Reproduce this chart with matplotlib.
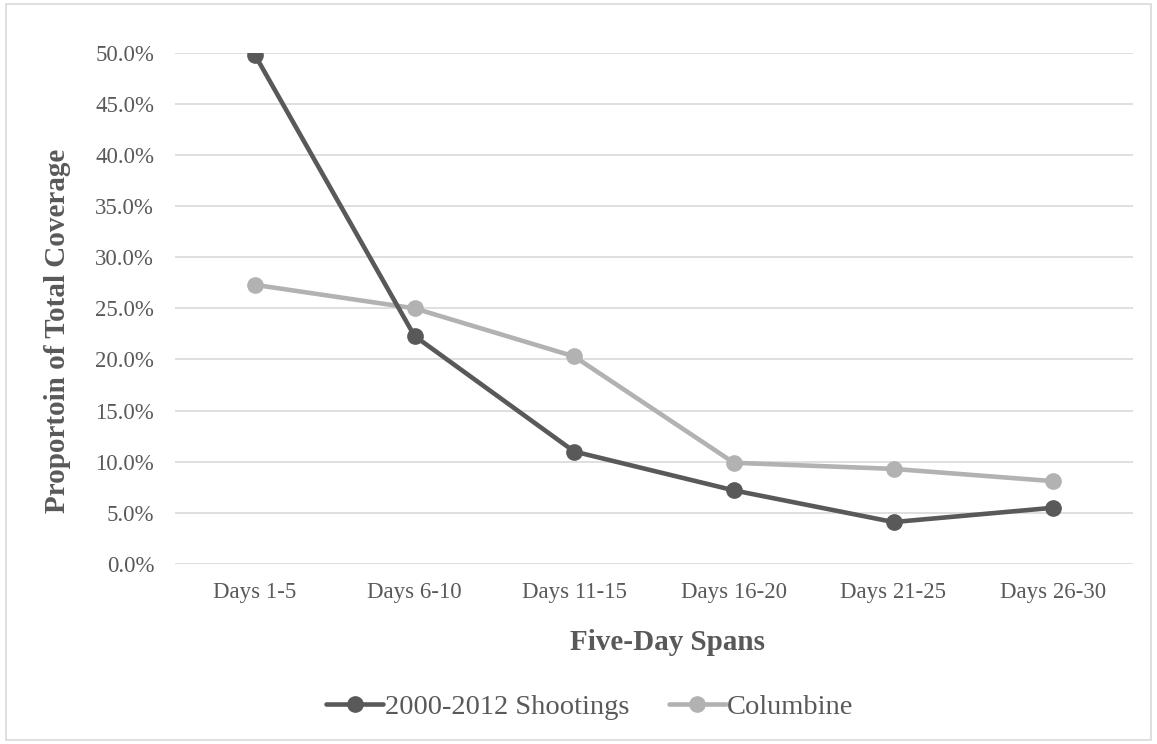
import matplotlib
matplotlib.use("Agg")
import matplotlib.pyplot as plt
from matplotlib.ticker import FuncFormatter, MultipleLocator
from matplotlib.patches import Rectangle

# Share of total coverage per five-day span (percent)
spans = ["Days 1-5", "Days 6-10", "Days 11-15", "Days 16-20", "Days 21-25", "Days 26-30"]
shootings_2000_2012 = [49.8, 22.3, 11.0, 7.2, 4.1, 5.5]
columbine = [27.3, 25.0, 20.3, 9.9, 9.3, 8.1]

plt.rcParams["font.family"] = ["Liberation Serif", "DejaVu Serif"]

W, H = 1157, 744
fig = plt.figure(figsize=(W / 100, H / 100), dpi=100)
ax = fig.add_axes([175 / W, 1 - 564 / H, (1133 - 175) / W, (564 - 52.7) / H])

text_color = "#595959"
x = list(range(len(spans)))
ax.plot(x, shootings_2000_2012, color="#595959", lw=3.3, marker="o", ms=11,
        label="2000-2012 Shootings", zorder=3, solid_capstyle="round")
ax.plot(x, columbine, color="#B2B2B2", lw=3.3, marker="o", ms=11,
        label="Columbine", zorder=2, solid_capstyle="round")

ax.set_xlim(-0.5, len(spans) - 0.5)
ax.set_ylim(0, 50)
ax.yaxis.set_major_locator(MultipleLocator(5))
ax.yaxis.set_major_formatter(FuncFormatter(lambda v, _: f"{v:.1f}%"))
ax.set_xticks(x)
ax.set_xticklabels(spans)
ax.grid(axis="y", color="#D9D9D9", lw=1.2)
ax.set_axisbelow(True)
for s in ax.spines.values():
    s.set_visible(False)
ax.tick_params(axis="both", length=0, labelsize=16.5, labelcolor=text_color)
ax.tick_params(axis="x", pad=13)
ax.tick_params(axis="y", pad=15)

# axis titles
fig.text(667 / W, 1 - 643 / H, "Five-Day Spans", fontsize=21, fontweight="bold",
         color=text_color, ha="center", va="center")
fig.text(58 / W, 1 - 331 / H, "Proportoin of Total Coverage", fontsize=21,
         fontweight="bold", color=text_color, ha="center", va="center", rotation=90)

fig.legend(loc="center", bbox_to_anchor=(590 / W, 1 - 707 / H), ncol=2,
           frameon=False, fontsize=20.5, handlelength=2.0, columnspacing=1.4,
           handletextpad=0.05, labelcolor=text_color)

# light frame around the whole chart
fig.patches.append(Rectangle((6 / W, 4 / H), 1 - 12 / W, 1 - 8 / H,
                             transform=fig.transFigure, fill=False,
                             edgecolor="#D9D9D9", lw=1.2))

fig.savefig("out.png", dpi=100, facecolor="white")
